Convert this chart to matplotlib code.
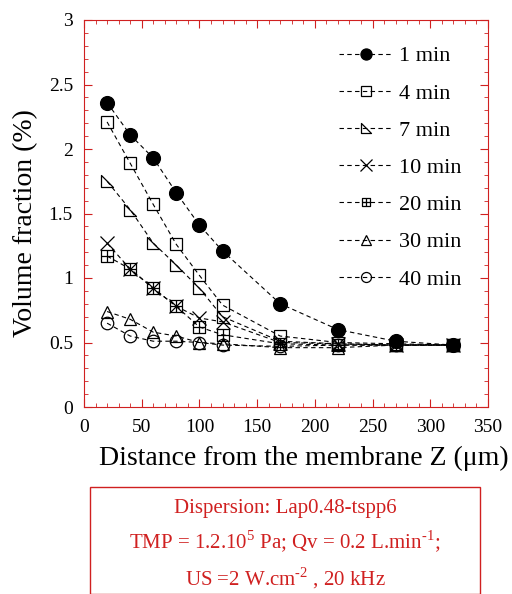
import numpy as np
import matplotlib.pyplot as plt
from matplotlib.path import Path
from matplotlib.patches import Rectangle

plt.rcParams['font.family'] = ['Liberation Serif', 'DejaVu Serif']
plt.rcParams['mathtext.fontset'] = 'custom'
plt.rcParams['mathtext.rm'] = 'Liberation Serif'

z = [20, 40, 60, 80, 100, 120, 170, 220, 270, 320]
labels = ["1 min", "4 min", "7 min", "10 min", "20 min", "30 min", "40 min"]
v1 = [2.36, 2.11, 1.93, 1.66, 1.41, 1.21, 0.80, 0.60, 0.51, 0.48]
v4 = [2.21, 1.89, 1.57, 1.26, 1.02, 0.79, 0.55, 0.50, 0.49, 0.48]
v7 = [1.75, 1.53, 1.27, 1.10, 0.92, 0.70, 0.51, 0.49, 0.48, 0.48]
v10 = [1.27, 1.07, 0.92, 0.78, 0.69, 0.66, 0.50, 0.49, 0.48, 0.48]
v20 = [1.17, 1.07, 0.92, 0.78, 0.62, 0.56, 0.49, 0.48, 0.48, 0.48]
v30 = [0.74, 0.68, 0.58, 0.55, 0.50, 0.49, 0.46, 0.46, 0.48, 0.48]
v40 = [0.65, 0.55, 0.51, 0.51, 0.50, 0.48, 0.47, 0.48, 0.48, 0.48]
series = [v1, v4, v7, v10, v20, v30, v40]

# custom markers
rtri = Path([(-1, 1), (-1, -1), (1, -1), (-1, 1)],
            [Path.MOVETO, Path.LINETO, Path.LINETO, Path.CLOSEPOLY])
sqplus = Path([(-1, -1), (1, -1), (1, 1), (-1, 1), (-1, -1),
               (0, -1), (0, 1), (-1, 0), (1, 0)],
              [Path.MOVETO, Path.LINETO, Path.LINETO, Path.LINETO, Path.CLOSEPOLY,
               Path.MOVETO, Path.LINETO, Path.MOVETO, Path.LINETO])
markers = ['o', 's', rtri, 'x', sqplus, '^', 'o']
sizes = [10, 9, 9, 10, 8, 9, 9]
red = '#d02020'

fig = plt.figure(figsize=(5.12, 5.94), dpi=100)
ax = fig.add_axes([84/512, 1-407/594, 404/512, 387/594])

for i in range(len(series)):
    fill = 'black' if i == 0 else 'none'
    ax.plot(z, series[i], linestyle=(0, (4, 3)), color='black', lw=0.8,
            marker=markers[i], ms=sizes[i], mfc=fill, mec='black', mew=0.9,
            label=labels[i])

ax.set_xlim(0, 350)
ax.set_ylim(0, 3)
ax.set_xticks(np.arange(0, 351, 50))
ax.set_xticks(np.arange(0, 351, 10), minor=True)
ax.set_yticks(np.arange(0, 3.01, 0.5))
ax.set_yticks(np.arange(0, 3.01, 0.1), minor=True)
ax.set_yticklabels(['0', '0.5', '1', '1.5', '2', '2.5', '3'])
ax.tick_params(which='both', direction='in', top=True, right=True, colors=red,
               labelcolor='black', labelsize=14)
ax.tick_params(which='major', length=6)
ax.tick_params(which='minor', length=3)
ax.tick_params(axis='x', which='major', pad=9)
ax.tick_params(axis='y', which='major', pad=8)
for s in ax.spines.values():
    s.set_color(red)
ax.set_xlabel('Distance from the membrane Z (\u03bcm)', fontsize=20)
ax.set_ylabel('Volume fraction (%)', fontsize=20)
ax.xaxis.set_label_coords((304 - 84) / 404, -(446 - 407) / 387)
ax.yaxis.set_label_coords(-(84 - 38) / 404, (407 - 223) / 387)

ax.legend(loc='upper right', frameon=False, fontsize=16, handlelength=2.4,
          labelspacing=0.75, handletextpad=0.3, markerscale=0.8,
          bbox_to_anchor=(0.985, 0.985))

# info box below the plot
fig.patches.append(Rectangle((90/512, 0), 390/512, 1-487/594, transform=fig.transFigure,
                             fill=False, ec=red, lw=1))
lines = ['Dispersion: Lap0.48-tspp6',
         'TMP = 1.2.10$^{\\mathrm{5}}$ Pa; Qv = 0.2 L.min$^{\\mathrm{\u20101}}$;',
         'US =2 W.cm$^{\\mathrm{\u20102}}$ , 20 kHz']
ys = [508, 542, 578]
for t, yy in zip(lines, ys):
    fig.text(285/512, 1-yy/594, t, ha='center', va='center', color=red, fontsize=15)

fig.savefig('out.png', dpi=100)
